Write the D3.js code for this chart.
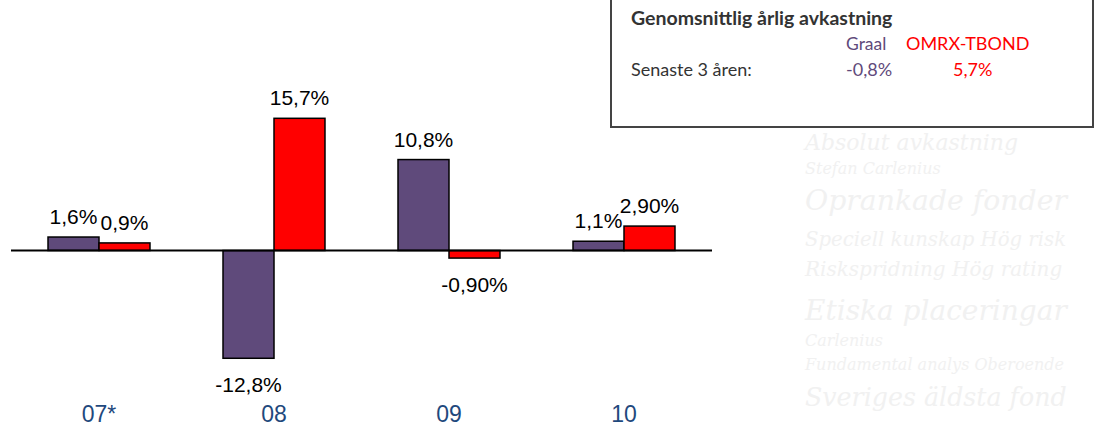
<!DOCTYPE html>
<html><head><meta charset="utf-8">
<script src="https://cdn.jsdelivr.net/npm/d3@7"></script>
<style>html,body{margin:0;padding:0;background:#fff;}svg{display:block;}</style>
</head><body>
<svg id="c" width="1096" height="428"></svg>
<script>
const categories = ["07*", "08", "09", "10"];
const seriesNames = ["Graal", "OMRX-TBOND"];
const graal = [1.6, -12.8, 10.8, 1.1];
const omrx = [0.9, 15.7, -0.9, 2.9];
const graalLabels = ["1,6%", "-12,8%", "10,8%", "1,1%"];
const omrxLabels = ["0,9%", "15,7%", "-0,90%", "2,90%"];
const boxTitle = "Genomsnittlig årlig avkastning";
const boxRowLabel = "Senaste 3 åren:";
const avgGraal = "-0,8%";
const avgOmrx = "5,7%";
const watermark = [
  ["Absolut avkastning", 150, 22],
  ["Stefan Carlenius", 174, 16],
  ["Oprankade fonder", 210, 30],
  ["Speciell kunskap Hög risk", 246, 20],
  ["Riskspridning Hög rating", 276, 20],
  ["Etiska placeringar", 320, 32],
  ["Carlenius", 346, 16],
  ["Fundamental analys Oberoende", 370, 16],
  ["Sveriges äldsta fond", 406, 26]
];

const colors = {"Graal": "#5f4a7b", "OMRX-TBOND": "#ff0000"};
const svg = d3.select("#c");

// faint watermark (shrunk to fit the right margin)
const wg = svg.append("g");
wg.selectAll("text").data(watermark).join("text")
  .attr("x", 805).attr("y", d => d[1])
  .attr("font-family", "DejaVu Serif").attr("font-style", "italic")
  .attr("font-size", d => d[2]).attr("fill", "#f1f1f1").text(d => d[0])
  .each(function(d) {
    const w = this.getComputedTextLength();
    if (w > 262) d3.select(this).attr("font-size", Math.floor(d[2] * 262 / w * 10) / 10);
  });

const y = d3.scaleLinear().domain([-15, 20]).range([250.5 + 15 * 8.42, 250.5 - 20 * 8.42]);
const x0 = d3.scaleBand().domain(categories).range([11.5, 711.5]).padding(0);
const x1 = d3.scaleBand().domain(seriesNames).range([0, x0.bandwidth()]).paddingInner(0).paddingOuter(0.716);

const data = categories.map((c, i) => ({
  cat: c,
  vals: [
    {s: "Graal", v: graal[i], l: graalLabels[i]},
    {s: "OMRX-TBOND", v: omrx[i], l: omrxLabels[i]}
  ]
}));

const g = svg.append("g");
const grp = g.selectAll("g.grp").data(data).join("g").attr("class", "grp")
  .attr("transform", d => `translate(${x0(d.cat)},0)`);

grp.selectAll("rect").data(d => d.vals).join("rect")
  .attr("x", d => x1(d.s)).attr("width", x1.bandwidth())
  .attr("y", d => y(Math.max(0, d.v)))
  .attr("height", d => Math.abs(y(d.v) - y(0)))
  .attr("fill", d => colors[d.s]).attr("stroke", "#000").attr("stroke-width", 1.5);

grp.selectAll("text.val").data(d => d.vals).join("text").attr("class", "val")
  .attr("x", d => x1(d.s) + x1.bandwidth() / 2)
  .attr("y", d => d.v >= 0 ? y(d.v) - 13 : y(d.v) + 34)
  .attr("text-anchor", "middle")
  .attr("font-family", "Liberation Sans, Arial").attr("font-size", 21).attr("fill", "#000")
  .text(d => d.l);

// zero axis line
g.append("line").attr("x1", 11).attr("x2", 712).attr("y1", y(0)).attr("y2", y(0))
  .attr("stroke", "#000").attr("stroke-width", 2);

// category axis labels
const xAxis = d3.axisBottom(x0).tickSize(0).tickPadding(0);
const ax = svg.append("g").attr("transform", "translate(0,406)").call(xAxis);
ax.select(".domain").remove();
ax.selectAll("text").attr("font-family", "Liberation Sans, Arial").attr("font-size", 23)
  .attr("fill", "#1f497d").attr("dy", "0.71em").attr("y", 0);

// info box
const bx = svg.append("g");
bx.append("rect").attr("x", 611).attr("y", -5).attr("width", 482).attr("height", 132)
  .attr("fill", "#fff").attr("stroke", "#444").attr("stroke-width", 2);
bx.append("text").attr("x", 631).attr("y", 25).attr("font-family", "Lato").attr("font-weight", "bold")
  .attr("font-size", 19.5).attr("fill", "#333").text(boxTitle);
bx.append("text").attr("x", 846).attr("y", 50).attr("font-family", "Lato").attr("font-size", 17.5)
  .attr("fill", colors["Graal"]).text(seriesNames[0]);
bx.append("text").attr("x", 906).attr("y", 50).attr("font-family", "Lato").attr("font-size", 18)
  .attr("fill", colors["OMRX-TBOND"]).text(seriesNames[1]);
bx.append("text").attr("x", 631).attr("y", 76).attr("font-family", "Lato").attr("font-size", 18)
  .attr("fill", "#333").text(boxRowLabel);
bx.append("text").attr("x", 846).attr("y", 76).attr("font-family", "Lato").attr("font-size", 18)
  .attr("fill", colors["Graal"]).text(avgGraal);
bx.append("text").attr("x", 953).attr("y", 76).attr("font-family", "Lato").attr("font-size", 18)
  .attr("fill", colors["OMRX-TBOND"]).text(avgOmrx);
</script>
</body></html>
